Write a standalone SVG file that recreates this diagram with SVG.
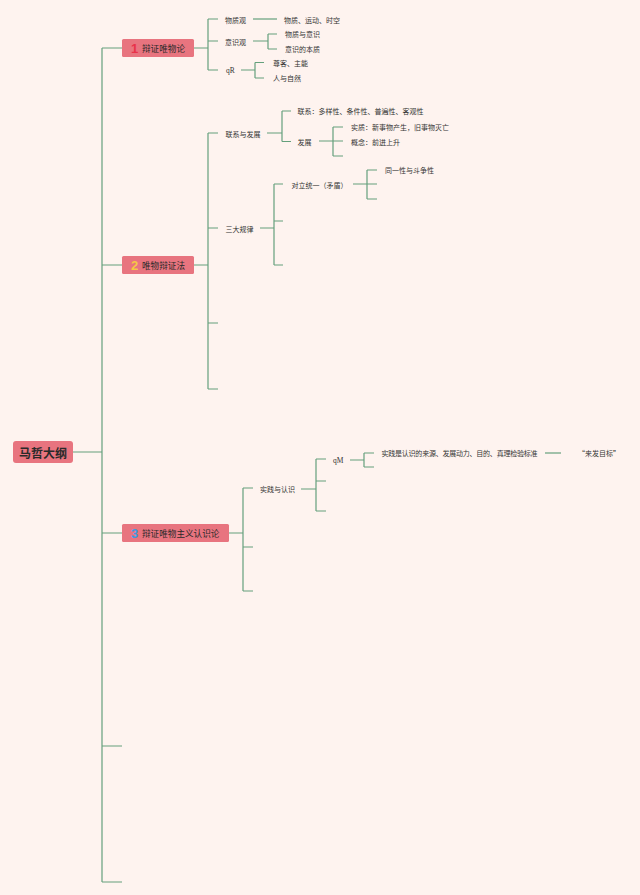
<svg xmlns="http://www.w3.org/2000/svg" width="640" height="895" viewBox="0 0 640 895">
<style>
.ln{fill:none;stroke:#64a07c;stroke-width:1.2}
.nd{fill:#e8747f}
.t{font-family:"Noto Sans CJK SC","Liberation Sans",sans-serif;font-size:7px;fill:#333;dominant-baseline:central}
.ts{font-family:"Liberation Serif",serif;font-size:7.5px;fill:#333;dominant-baseline:central}
.mt{font-family:"Noto Sans CJK SC","Liberation Sans",sans-serif;font-size:8.6px;fill:#2a2a2a;dominant-baseline:central}
.num{font-family:"Liberation Sans",sans-serif;font-size:13px;font-weight:bold;dominant-baseline:central}
.rt{font-family:"Noto Sans CJK SC","Liberation Sans",sans-serif;font-size:12px;font-weight:bold;fill:#2a2a2a;dominant-baseline:central}
</style>
<rect width="640" height="895" fill="#fef3ef"/>
<g id="connectors">
<path class="ln" d="M73 452H102M102 48V882M102 48H122M102 265H122M102 533H122M102 746H122M102 882H122"/>
<path class="ln" d="M194 48H208M208 19V70M208 19H218M208 41H218M208 70H218"/>
<path class="ln" d="M253 19H277"/>
<path class="ln" d="M253 41H268M268 34V49M268 34H277M268 49H277"/>
<path class="ln" d="M241 70H255M255 62.5V78M255 62.5H264M255 78H264"/>
<path class="ln" d="M194 265H208M208 133V389M208 133H218M208 228H218M208 323H218M208 389H218"/>
<path class="ln" d="M267 133H282M282 111V141.5M282 111H291M282 141.5H291"/>
<path class="ln" d="M319 141H333M333 127V156M333 127H343M333 141H343M333 156H343"/>
<path class="ln" d="M260 228H274M274 184V265M274 184H283M274 221H283M274 265H283"/>
<path class="ln" d="M353 184H367M367 170V199M367 170H377M367 184H377M367 199H377"/>
<path class="ln" d="M229 533H243M243 488V591M243 488H253M243 547H253M243 591H253"/>
<path class="ln" d="M301 489H316M316 459V511M316 459H326M316 481H326M316 511H326"/>
<path class="ln" d="M350 460H364M364 453V467M364 453H374M364 467H374"/>
<path class="ln" d="M545 453H561"/>
</g>
<g id="root">
<rect class="nd" x="13" y="441" width="60" height="22" rx="3"/>
<text class="rt" x="43" y="452" text-anchor="middle">马哲大纲</text>
</g>
<g id="n1">
<rect class="nd" x="122" y="39" width="72" height="18" rx="1.5"/>
<text class="num" x="131" y="48" fill="#e8324a">1</text>
<text class="mt" x="142" y="48">辩证唯物论</text>
</g>
<g id="n2">
<rect class="nd" x="122" y="256" width="72" height="18" rx="1.5"/>
<text class="num" x="131" y="265" fill="#f5c945">2</text>
<text class="mt" x="142" y="265">唯物辩证法</text>
</g>
<g id="n3">
<rect class="nd" x="122" y="524" width="107" height="18" rx="1.5"/>
<text class="num" x="131" y="533" fill="#3f9ae0">3</text>
<text class="mt" x="142" y="533">辩证唯物主义认识论</text>
</g>
<g id="l1a"><text class="t" x="225" y="19.5">物质观</text></g>
<g id="l1a1"><text class="t" x="284" y="19.5">物质、运动、时空</text></g>
<g id="l1b"><text class="t" x="225" y="41.5">意识观</text></g>
<g id="l1b1"><text class="t" x="285" y="34">物质与意识</text></g>
<g id="l1b2"><text class="t" x="285" y="49">意识的本质</text></g>
<g id="l1c"><text class="ts" x="226" y="70.5">qR</text></g>
<g id="l1c1"><text class="t" x="273" y="62.5">尊客、主能</text></g>
<g id="l1c2"><text class="t" x="273" y="77.5">人与自然</text></g>
<g id="l2a"><text class="t" x="225.5" y="133.5">联系与发展</text></g>
<g id="l2a1"><text class="t" x="297.5" y="111">联系：多样性、条件性、普遍性、客观性</text></g>
<g id="l2a2"><text class="t" x="297.5" y="141.5">发展</text></g>
<g id="l2a21"><text class="t" x="351" y="127">实质：新事物产生，旧事物灭亡</text></g>
<g id="l2a22"><text class="t" x="351" y="141.5">概念：前进上升</text></g>
<g id="l2b"><text class="t" x="225.5" y="228.5">三大规律</text></g>
<g id="l2b1"><text class="t" x="291.5" y="184.5">对立统一（矛盾）</text></g>
<g id="l2b11"><text class="t" x="385" y="170">同一性与斗争性</text></g>
<g id="l3a"><text class="t" x="260" y="489">实践与认识</text></g>
<g id="l3a1"><text class="ts" x="333" y="460.5">qM</text></g>
<g id="l3a11"><text class="t" x="381.5" y="453" textLength="156">实践是认识的来源、发展动力、目的、真理检验标准</text></g>
<g id="l3a111"><text class="t" x="578" y="453">“来发目标”</text></g>
</svg>
